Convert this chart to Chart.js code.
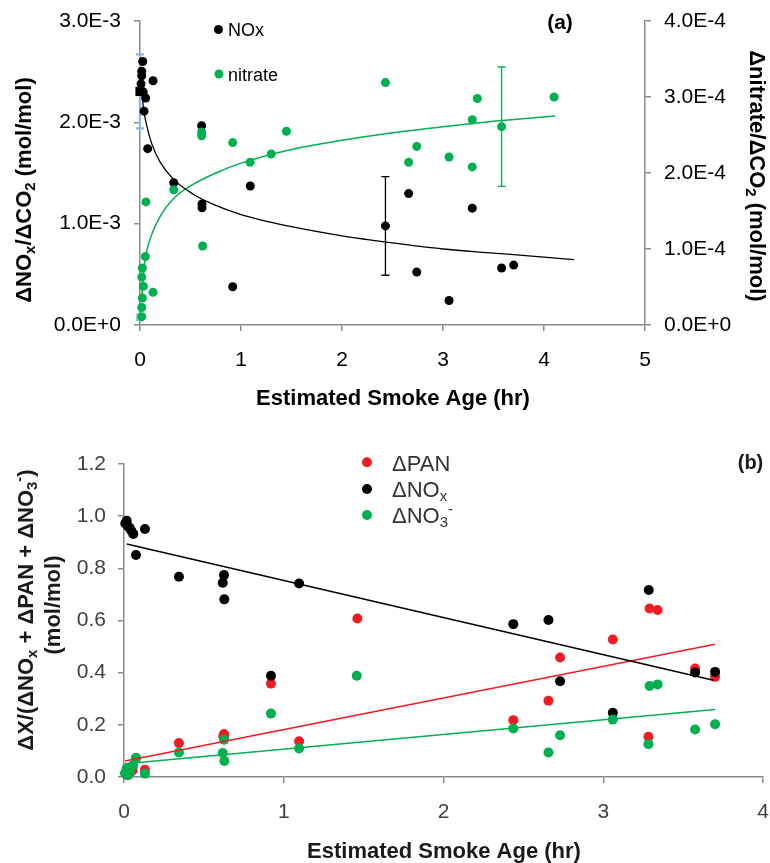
<!DOCTYPE html>
<html>
<head>
<meta charset="utf-8">
<script src="https://cdn.jsdelivr.net/npm/chart.js@4.4.1/dist/chart.umd.min.js"></script>
<style>
  html, body { margin: 0; padding: 0; background: #fff; }
  #wrapA { position: absolute; left: 0; top: 0; width: 770px; height: 420px; }
  #wrapB { position: absolute; left: 0; top: 420px; width: 770px; height: 443px; }
  canvas { display: block; }
  #chartB { filter: blur(0.5px); }
</style>
</head>
<body>
<div id="wrapA"><canvas id="chartA" width="770" height="420"></canvas></div>
<div id="wrapB"><canvas id="chartB" width="770" height="443"></canvas></div>
<script>
// ---------- Panel (a): NOx and nitrate per unit excess CO2 vs. smoke age ----------
const noxAge   = [0.027, 0.017, 0.017, 0.010, 0.032, 0.056, 0.129, 0.040, 0.076, 0.334, 0.610,
                  1.092, 0.614, 0.614, 0.918, 2.43, 2.66, 3.29, 2.74, 3.06, 3.58, 3.70];
const noxRatio = [2.60e-3, 2.505e-3, 2.46e-3, 2.38e-3, 2.30e-3, 2.24e-3, 2.41e-3, 2.11e-3, 1.74e-3, 1.405e-3, 1.967e-3,
                  1.372e-3, 1.195e-3, 1.156e-3, 0.377e-3, 0.978e-3, 1.297e-3, 1.153e-3, 0.522e-3, 0.242e-3, 0.562e-3, 0.591e-3];
const noxSpread = [0, 0, 0, 0, 0, 0, 0, 0, 0, 0, 0,
                   0, 0, 0, 0, 0.487e-3, 0, 0, 0, 0, 0, 0];

const nitAge   = [2.43, 0.61, 0.61, 0.918, 1.45, 1.30, 1.09, 0.334, 0.059, 0.62, 0.053, 0.023, 0.017,
                  0.033, 0.129, 0.023, 0.017, 0.017, 3.34, 4.10, 3.29, 3.58, 2.74, 2.66, 3.06, 3.29];
const nitRatio = [3.19e-4, 2.54e-4, 2.49e-4, 2.40e-4, 2.55e-4, 2.25e-4, 2.14e-4, 1.78e-4, 1.62e-4, 1.04e-4, 0.90e-4, 0.75e-4, 0.63e-4,
                  0.51e-4, 0.43e-4, 0.355e-4, 0.23e-4, 0.11e-4, 2.98e-4, 3.00e-4, 2.70e-4, 2.61e-4, 2.35e-4, 2.14e-4, 2.21e-4, 2.08e-4];
const nitSpread = [0, 0, 0, 0, 0, 0, 0, 0, 0, 0, 0, 0, 0,
                   0, 0, 0, 0, 0, 0, 0, 0, 0.785e-4, 0, 0, 0, 0];

// fire-source (age zero) values
const srcAge = [0];
const srcNOx = [2.305e-3];
const srcNOxSpread = [0.365e-3];
const srcNitrate = [0.1e-4];

// fitted curves
const noxFitAge = [0.02, 0.033, 0.066, 0.116, 0.198, 0.33, 0.528, 0.726, 1.0, 1.5, 2.0, 2.5, 3.0, 3.5, 4.0, 4.3];
const noxFit    = [2.29e-3, 2.15e-3, 1.97e-3, 1.79e-3, 1.61e-3, 1.44e-3, 1.29e-3, 1.19e-3, 1.09e-3, 0.97e-3, 0.88e-3,
                   0.81e-3, 0.75e-3, 0.71e-3, 0.67e-3, 0.645e-3];
const nitFitAge = [0.015, 0.03, 0.05, 0.1, 0.2, 0.33, 0.5, 0.75, 1.0, 1.5, 2.0, 2.5, 3.0, 3.5, 4.11];
const nitFit    = [0.3e-4, 0.6e-4, 0.86e-4, 1.13e-4, 1.43e-4, 1.66e-4, 1.83e-4, 2.00e-4, 2.13e-4, 2.31e-4, 2.43e-4,
                   2.53e-4, 2.61e-4, 2.68e-4, 2.75e-4];

// ---------- Panel (b): fraction of NOy-sum in each species ----------
const panAge  = [0.0125, 0.017, 0.023, 0.042, 0.054, 0.075, 0.131, 0.344, 0.622, 0.626, 0.628, 0.92, 1.096, 1.461,
                 2.437, 2.657, 2.73, 3.06, 3.283, 3.29, 3.34, 3.575, 3.70];
const panFrac = [0.02, 0.008, 0.015, 0.02, 0.025, 0.072, 0.028, 0.130, 0.155, 0.165, 0.160, 0.358, 0.137, 0.608,
                 0.218, 0.292, 0.458, 0.527, 0.154, 0.646, 0.640, 0.416, 0.384];

const noxbAge  = [0.008, 0.017, 0.023, 0.035, 0.045, 0.058, 0.131, 0.075, 0.344, 0.626, 0.618, 0.628, 1.096, 0.92,
                  2.437, 2.657, 3.285, 2.73, 3.06, 3.575, 3.70];
const noxbFrac = [0.972, 0.982, 0.962, 0.955, 0.945, 0.932, 0.951, 0.851, 0.768, 0.774, 0.745, 0.681, 0.742, 0.388,
                  0.586, 0.602, 0.717, 0.367, 0.246, 0.401, 0.403];

const no3Age  = [0.006, 0.017, 0.025, 0.038, 0.057, 0.075, 0.131, 0.344, 0.618, 0.626, 0.628, 0.92, 1.096, 1.457,
                 2.437, 2.657, 2.73, 3.06, 3.283, 3.29, 3.34, 3.575, 3.70];
const no3Frac = [0.014, 0.033, 0.007, 0.022, 0.045, 0.074, 0.013, 0.094, 0.092, 0.143, 0.061, 0.243, 0.109, 0.388,
                 0.186, 0.094, 0.160, 0.220, 0.126, 0.349, 0.355, 0.182, 0.202];

// linear trend lines (end points)
const panFitAge = [0.006, 3.70];  const panFit = [0.061, 0.509];
const noxbFitAge = [0.017, 3.69]; const noxbFit = [0.893, 0.371];
const no3FitAge = [0.006, 3.70];  const no3Fit = [0.051, 0.259];

// ---------- helpers ----------
const FAMILY = '"Liberation Sans", Arial, Helvetica, sans-serif';
const AXIS_GREY = '#8a8a8a';
const GREEN = '#00b050';
const RED = '#f01c24';

const pts = (xs, ys) => xs.map((x, i) => ({ x, y: ys[i] }));
const sci = v => Number(v).toExponential(1).toUpperCase();

// draws a run of text pieces, some of them sub- or superscript, at the current origin
function drawRich(ctx, segs, size, weight, color, align) {
  const parts = segs.map(([t, kind]) => {
    const s = kind ? size * 0.68 : size;
    ctx.font = `${weight} ${s}px ${FAMILY}`;
    return { t, s, kind, w: ctx.measureText(t).width };
  });
  const total = parts.reduce((a, p) => a + p.w, 0);
  let x = align === 'center' ? -total / 2 : 0;
  ctx.fillStyle = color;
  ctx.textAlign = 'left';
  ctx.textBaseline = 'alphabetic';
  parts.forEach(p => {
    ctx.font = `${weight} ${p.s}px ${FAMILY}`;
    const dy = p.kind === 'sub' ? size * 0.16 : (p.kind === 'sup' ? -size * 0.42 : 0);
    ctx.fillText(p.t, x, dy);
    x += p.w;
  });
}

// vertical error bars for datasets that carry an "errorBars" array
const errorBarPlugin = {
  id: 'errorBars',
  beforeDatasetsDraw(chart) {
    const ctx = chart.ctx;
    chart.data.datasets.forEach((ds, i) => {
      if (!ds.errorBars) return;
      const meta = chart.getDatasetMeta(i);
      const ys = chart.scales[meta.yAxisID];
      ctx.save();
      ctx.strokeStyle = ds.errorBarColor || ds.borderColor;
      ctx.lineWidth = ds.errorBarWidth || 1.3;
      meta.data.forEach((el, j) => {
        const h = ds.errorBars[j];
        if (!h) return;
        const v = ds.data[j].y;
        const top = ys.getPixelForValue(v + h);
        const bot = ys.getPixelForValue(v - h);
        const x = el.x, c = ds.errorBarCap || 4;
        ctx.beginPath();
        ctx.moveTo(x, top); ctx.lineTo(x, bot);
        ctx.moveTo(x - c, top); ctx.lineTo(x + c, top);
        ctx.moveTo(x - c, bot); ctx.lineTo(x + c, bot);
        ctx.stroke();
      });
      ctx.restore();
    });
  }
};

// axis titles, panel tag and the in-plot legend
function notesPlugin(cfg) {
  return {
    id: 'notes',
    afterDraw(chart) {
      const ctx = chart.ctx;
      cfg.texts.forEach(it => {
        ctx.save();
        ctx.translate(it.x, it.y);
        if (it.rotate) ctx.rotate(it.rotate * Math.PI / 180);
        drawRich(ctx, it.segs, it.size, it.weight || 'normal', it.color || '#000', it.align || 'center');
        ctx.restore();
      });
      cfg.legend.forEach(it => {
        const ds = chart.data.datasets[it.dataset];
        ctx.save();
        ctx.fillStyle = ds.backgroundColor;
        ctx.beginPath();
        ctx.arc(it.cx, it.cy, it.r, 0, Math.PI * 2);
        ctx.fill();
        ctx.translate(it.tx, it.ty);
        drawRich(ctx, it.segs, it.size, 'normal', it.color || '#000', 'left');
        ctx.restore();
      });
    }
  };
}

function axisStyle(extra) {
  return Object.assign({
    border: { display: true, color: AXIS_GREY, width: 1.5 },
    grid: { drawOnChartArea: false, drawTicks: true, tickLength: 6, color: AXIS_GREY, lineWidth: 1.5 }
  }, extra);
}

// fixed axis box sizes so the plot area sits where intended
function fixBox(size) {
  return s => {
    if (s.isHorizontal()) { s.height = size; s.paddingLeft = 0; s.paddingRight = 0; }
    else { s.width = size; s.paddingTop = 0; s.paddingBottom = 0; }
  };
}

// ---------- chart (a) ----------
new Chart(document.getElementById('chartA'), {
  type: 'scatter',
  data: {
    datasets: [
      { label: 'NOx', data: pts(noxAge, noxRatio), yAxisID: 'y',
        backgroundColor: '#000', borderColor: '#000', pointRadius: 4.5, pointBorderWidth: 0,
        errorBars: noxSpread, errorBarColor: '#000', errorBarWidth: 1.3, errorBarCap: 4, clip: false, order: 4 },
      { label: 'nitrate', data: pts(nitAge, nitRatio), yAxisID: 'y2',
        backgroundColor: GREEN, borderColor: GREEN, pointRadius: 4.5, pointBorderWidth: 0,
        errorBars: nitSpread, errorBarColor: GREEN, errorBarWidth: 1.3, errorBarCap: 4, clip: false, order: 3 },
      { label: 'source NOx', data: pts(srcAge, srcNOx), yAxisID: 'y',
        backgroundColor: '#000', borderColor: '#000', pointStyle: 'rect', pointRadius: 6.5, pointBorderWidth: 0,
        errorBars: srcNOxSpread, errorBarColor: '#8db4e2', errorBarWidth: 2.2, errorBarCap: 4, clip: false, order: 5 },
      { label: 'source nitrate', data: pts(srcAge, srcNitrate), yAxisID: 'y2',
        backgroundColor: 'rgba(141,180,226,0.85)', borderColor: 'rgba(141,180,226,0.85)', pointStyle: 'rect',
        pointRadius: 5.5, pointBorderWidth: 0, clip: false, order: 6 },
      { label: 'NOx fit', data: pts(noxFitAge, noxFit), yAxisID: 'y', showLine: true,
        borderColor: '#000', borderWidth: 1.3, pointRadius: 0, cubicInterpolationMode: 'monotone', order: 1 },
      { label: 'nitrate fit', data: pts(nitFitAge, nitFit), yAxisID: 'y2', showLine: true,
        borderColor: GREEN, borderWidth: 1.5, pointRadius: 0, cubicInterpolationMode: 'monotone', order: 2 }
    ]
  },
  options: {
    responsive: false,
    animation: false,
    events: [],
    layout: { padding: { top: 21, left: 0, right: 0, bottom: 0 } },
    plugins: { legend: { display: false }, tooltip: { enabled: false } },
    scales: {
      x: axisStyle({
        type: 'linear', min: 0, max: 5,
        afterFit: fixBox(95),
        ticks: { stepSize: 1, padding: 17, color: '#000', font: { family: FAMILY, size: 21 }, maxRotation: 0 }
      }),
      y: axisStyle({
        type: 'linear', position: 'left', min: 0, max: 0.003,
        afterFit: fixBox(140),
        ticks: { stepSize: 0.001, padding: 13, color: '#000', font: { family: FAMILY, size: 21 }, callback: v => sci(v) }
      }),
      y2: axisStyle({
        type: 'linear', position: 'right', min: 0, max: 0.0004,
        afterFit: fixBox(125),
        ticks: { stepSize: 0.0001, padding: 13, color: '#000', font: { family: FAMILY, size: 21 }, callback: v => sci(v) }
      })
    }
  },
  plugins: [errorBarPlugin, notesPlugin({
    texts: [
      { segs: [['ΔNO'], ['x', 'sub'], ['/ΔCO'], ['2', 'sub'], [' (mol/mol)']], x: 31, y: 190, rotate: -90, size: 22, weight: 'bold' },
      { segs: [['Δnitrate/ΔCO'], ['2', 'sub'], [' (mol/mol)']], x: 750, y: 176, rotate: 90, size: 22, weight: 'bold' },
      { segs: [['Estimated Smoke Age (hr)']], x: 393, y: 405, size: 22, weight: 'bold' },
      { segs: [['(a)']], x: 560, y: 29, size: 21, weight: 'bold' }
    ],
    legend: [
      { dataset: 0, cx: 218.5, cy: 29.5, r: 4.5, tx: 228, ty: 36, segs: [['NOx']], size: 18 },
      { dataset: 1, cx: 219, cy: 74, r: 4.5, tx: 228, ty: 81, segs: [['nitrate']], size: 18 }
    ]
  })]
});

// ---------- chart (b) ----------
new Chart(document.getElementById('chartB'), {
  type: 'scatter',
  data: {
    datasets: [
      { label: 'ΔPAN', data: pts(panAge, panFrac), backgroundColor: RED, borderColor: RED,
        pointRadius: 5, pointBorderWidth: 0, clip: false, order: 6 },
      { label: 'ΔNOx', data: pts(noxbAge, noxbFrac), backgroundColor: '#000', borderColor: '#000',
        pointRadius: 5, pointBorderWidth: 0, clip: false, order: 5 },
      { label: 'ΔNO3-', data: pts(no3Age, no3Frac), backgroundColor: GREEN, borderColor: GREEN,
        pointRadius: 5, pointBorderWidth: 0, clip: false, order: 4 },
      { label: 'ΔPAN fit', data: pts(panFitAge, panFit), showLine: true, borderColor: RED,
        borderWidth: 1.5, pointRadius: 0, order: 2 },
      { label: 'ΔNOx fit', data: pts(noxbFitAge, noxbFit), showLine: true, borderColor: '#000',
        borderWidth: 1.5, pointRadius: 0, order: 1 },
      { label: 'ΔNO3- fit', data: pts(no3FitAge, no3Fit), showLine: true, borderColor: GREEN,
        borderWidth: 1.5, pointRadius: 0, order: 3 }
    ]
  },
  options: {
    responsive: false,
    animation: false,
    events: [],
    layout: { padding: { top: 44, left: 0, right: 7, bottom: 0 } },
    plugins: { legend: { display: false }, tooltip: { enabled: false } },
    scales: {
      x: axisStyle({
        type: 'linear', min: 0, max: 4,
        afterFit: fixBox(86),
        ticks: { stepSize: 1, padding: 17, color: '#404040', font: { family: FAMILY, size: 21 }, maxRotation: 0 }
      }),
      y: axisStyle({
        type: 'linear', position: 'left', min: 0, max: 1.2,
        afterFit: fixBox(124),
        ticks: { stepSize: 0.2, padding: 12, color: '#404040', font: { family: FAMILY, size: 21 }, callback: v => Number(v).toFixed(1) }
      })
    }
  },
  plugins: [notesPlugin({
    texts: [
      { segs: [['ΔX/(ΔNO'], ['x', 'sub'], [' + ΔPAN + ΔNO'], ['3', 'sub'], ['-', 'sup'], [')']],
        x: 33, y: 190, rotate: -90, size: 22, weight: 'bold', color: '#1a1a1a' },
      { segs: [['(mol/mol)']], x: 60, y: 185, rotate: -90, size: 22, weight: 'bold', color: '#1a1a1a' },
      { segs: [['Estimated Smoke Age (hr)']], x: 444, y: 438, size: 22, weight: 'bold', color: '#1a1a1a' },
      { segs: [['(b)']], x: 750.5, y: 49, size: 20, weight: 'bold', color: '#1a1a1a' }
    ],
    legend: [
      { dataset: 0, cx: 367, cy: 42.3, r: 5, tx: 392, ty: 50.7, segs: [['ΔPAN']], size: 22, color: '#333' },
      { dataset: 1, cx: 367, cy: 69, r: 5, tx: 392, ty: 77.3, segs: [['ΔNO'], ['x', 'sub']], size: 22, color: '#333' },
      { dataset: 2, cx: 367, cy: 95, r: 5, tx: 392, ty: 103.3, segs: [['ΔNO'], ['3', 'sub'], ['-', 'sup']], size: 22, color: '#333' }
    ]
  })]
});
</script>
</body>
</html>
